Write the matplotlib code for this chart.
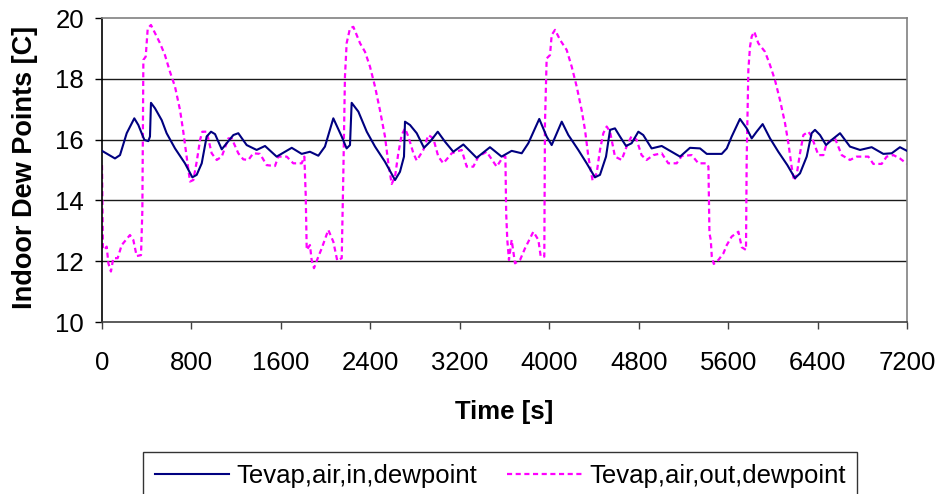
import matplotlib
matplotlib.use("Agg")
import matplotlib.pyplot as plt

# ---- data ----
t_in = [0, 116, 161, 221, 289, 325, 379, 414, 429, 438, 474, 534, 578, 653, 742, 808, 847, 892,
        936, 975, 1011, 1071, 1115, 1175, 1219, 1294, 1383, 1458, 1562, 1697, 1786, 1860, 1935,
        1994, 2069, 2144, 2188, 2218, 2233, 2293, 2368, 2442, 2531, 2621, 2665, 2701, 2710, 2755,
        2815, 2880, 2934, 3003, 3068, 3142, 3232, 3351, 3470, 3574, 3664, 3754, 3813, 3911, 3977,
        4022, 4112, 4171, 4260, 4335, 4409, 4454, 4508, 4544, 4588, 4633, 4687, 4737, 4797, 4841,
        4916, 5006, 5170, 5259, 5349, 5409, 5543, 5588, 5632, 5706, 5766, 5811, 5855, 5909, 5975,
        6049, 6130, 6198, 6243, 6303, 6347, 6377, 6422, 6476, 6526, 6601, 6690, 6780, 6884, 6988,
        7063, 7137, 7200]
dew_in = [15.63, 15.38, 15.49, 16.21, 16.70, 16.48, 15.99, 15.95, 16.10, 17.21, 17.03, 16.64,
          16.21, 15.71, 15.22, 14.76, 14.84, 15.22, 16.10, 16.26, 16.18, 15.68, 15.88, 16.15,
          16.21, 15.82, 15.66, 15.79, 15.44, 15.73, 15.53, 15.60, 15.47, 15.77, 16.70, 16.10,
          15.71, 15.82, 17.21, 16.92, 16.26, 15.77, 15.27, 14.67, 14.94, 15.44, 16.59, 16.48,
          16.21, 15.73, 15.93, 16.26, 15.93, 15.60, 15.84, 15.40, 15.75, 15.44, 15.63, 15.55,
          15.88, 16.68, 16.10, 15.82, 16.59, 16.15, 15.66, 15.22, 14.76, 14.84, 15.44, 16.32,
          16.37, 16.10, 15.79, 15.88, 16.26, 16.15, 15.71, 15.79, 15.44, 15.73, 15.71, 15.53,
          15.53, 15.71, 16.10, 16.68, 16.37, 16.04, 16.26, 16.51, 16.04, 15.60, 15.16, 14.73,
          14.89, 15.44, 16.21, 16.32, 16.15, 15.82, 15.99, 16.21, 15.77, 15.66, 15.75, 15.53,
          15.55, 15.75, 15.63]

t_out = [0, 8, 21, 42, 57, 80, 101, 140, 176, 250, 280, 310, 349, 361, 370, 391, 409, 438, 474,
         519, 563, 608, 653, 698, 727, 757, 787, 817, 847, 877, 897, 936, 981, 1026, 1071, 1130,
         1160, 1219, 1264, 1309, 1353, 1413, 1473, 1547, 1577, 1652, 1711, 1786, 1810, 1822, 1831,
         1860, 1875, 1896, 1935, 1965, 2024, 2069, 2104, 2144, 2158, 2173, 2188, 2218, 2248, 2308,
         2352, 2397, 2442, 2486, 2531, 2561, 2591, 2621, 2650, 2680, 2710, 2740, 2785, 2815, 2874,
         2919, 2963, 3008, 3053, 3128, 3217, 3262, 3321, 3366, 3440, 3530, 3589, 3608, 3615, 3625,
         3640, 3664, 3694, 3739, 3783, 3858, 3903, 3924, 3956, 3962, 3977, 4007, 4022, 4052, 4097,
         4156, 4201, 4246, 4290, 4320, 4350, 4388, 4424, 4454, 4484, 4514, 4544, 4588, 4648, 4692,
         4737, 4782, 4826, 4871, 4931, 5006, 5065, 5140, 5185, 5274, 5334, 5409, 5424, 5433, 5445,
         5454, 5472, 5513, 5558, 5588, 5632, 5692, 5722, 5760, 5766, 5781, 5796, 5811, 5834, 5870,
         5930, 5975, 6019, 6064, 6109, 6139, 6168, 6189, 6213, 6243, 6273, 6318, 6347, 6407, 6452,
         6481, 6556, 6616, 6690, 6750, 6854, 6899, 6973, 7018, 7078, 7137, 7200]
dew_out = [15.16, 12.45, 12.37, 12.48, 11.93, 11.66, 12.10, 12.10, 12.53, 12.86, 12.70, 12.17,
           12.20, 13.68, 18.62, 18.73, 19.66, 19.77, 19.50, 19.17, 18.78, 18.23, 17.74, 16.97,
           16.26, 15.44, 14.62, 14.67, 15.27, 15.99, 16.26, 16.26, 15.55, 15.33, 15.44, 16.04,
           16.04, 15.55, 15.35, 15.33, 15.55, 15.53, 15.16, 15.13, 15.44, 15.44, 15.22, 15.22,
           15.44, 14.18, 12.37, 12.53, 12.04, 11.77, 12.15, 12.42, 13.03, 12.64, 12.02, 12.10,
           14.78, 18.07, 19.17, 19.66, 19.71, 19.17, 18.89, 18.40, 17.74, 16.97, 16.10, 15.22,
           14.54, 14.78, 15.55, 16.15, 16.37, 16.10, 15.55, 15.31, 15.66, 16.15, 16.04, 15.44,
           15.22, 15.55, 15.66, 15.11, 15.11, 15.44, 15.60, 15.11, 15.44, 15.44, 13.58, 12.70,
           12.04, 12.70, 11.93, 12.04, 12.42, 12.97, 12.70, 12.15, 12.15, 16.54, 18.67, 18.78,
           19.44, 19.61, 19.28, 18.95, 18.40, 17.74, 16.97, 16.32, 15.44, 14.65, 14.89, 15.66,
           16.21, 16.43, 16.26, 15.44, 15.33, 15.77, 16.12, 15.99, 15.49, 15.33, 15.49, 15.55,
           15.22, 15.22, 15.46, 15.49, 15.22, 15.22, 15.11, 12.92, 12.70, 12.15, 11.91, 12.04,
           12.26, 12.53, 12.81, 12.97, 12.46, 12.37, 15.33, 18.29, 19.06, 19.39, 19.55, 19.17,
           18.89, 18.45, 17.96, 17.30, 16.54, 15.88, 15.11, 14.65, 14.84, 15.55, 16.15, 16.26,
           16.10, 15.49, 15.49, 15.88, 16.04, 15.49, 15.33, 15.44, 15.44, 15.20, 15.20, 15.44,
           15.49, 15.38, 15.20]

x_ticks = [0, 800, 1600, 2400, 3200, 4000, 4800, 5600, 6400, 7200]
y_ticks = [10, 12, 14, 16, 18, 20]
label_in = "Tevap,air,in,dewpoint"
label_out = "Tevap,air,out,dewpoint"
x_title = "Time [s]"
y_title = "Indoor Dew Points [C]"

plt.rcParams['font.family'] = ['Liberation Sans', 'DejaVu Sans']

W, H = 942, 494
fig = plt.figure(figsize=(W / 100, H / 100), dpi=100)
L, R, T, B = 102, 907, 18, 322
ax = fig.add_axes([L / W, 1 - B / H, (R - L) / W, (B - T) / H])

ax.plot(t_in, dew_in, color='#000080', lw=1.5, label=label_in, zorder=3)
ax.plot(t_out, dew_out, color='#FF00FF', lw=1.6, linestyle=(0, (2.3, 1.6)),
        label=label_out, zorder=2)

ax.set_xlim(0, 7200)
ax.set_ylim(10, 20)
ax.set_xticks(x_ticks)
ax.set_yticks(y_ticks)
ax.set_xticklabels([str(v) for v in x_ticks])
ax.set_yticklabels([str(v) for v in y_ticks])

for v in y_ticks[1:-1]:
    ax.axhline(v, color='#1a1a1a', lw=1.0, zorder=1)

ax.spines['left'].set_color('black')
ax.spines['bottom'].set_color('#404040')
ax.spines['top'].set_color('#808080')
ax.spines['right'].set_color('#808080')
for s in ax.spines.values():
    s.set_linewidth(1.2)

ax.tick_params(axis='x', direction='out', length=5, width=1, color='#404040',
               labelsize=18.5, pad=16)
ax.tick_params(axis='y', direction='out', length=5, width=1, color='black',
               labelsize=18.5, pad=8)

fig.text(25 / W, 1 - 167 / H, y_title, rotation=90, ha='center', va='center',
         fontsize=19.5, fontweight='bold')
fig.text(504 / W, 1 - 412 / H, x_title, ha='center', va='center',
         fontsize=18.5, fontweight='bold')

leg = fig.legend(loc='upper left', bbox_to_anchor=(143 / W, 1 - 452 / H),
                 ncol=2, frameon=True, fancybox=False, fontsize=18.5,
                 handlelength=2.9, handletextpad=0.3, columnspacing=1.15,
                 borderpad=0.45, borderaxespad=0, edgecolor='black')
leg.get_frame().set_linewidth(1.0)

fig.savefig('out.png', dpi=100)
